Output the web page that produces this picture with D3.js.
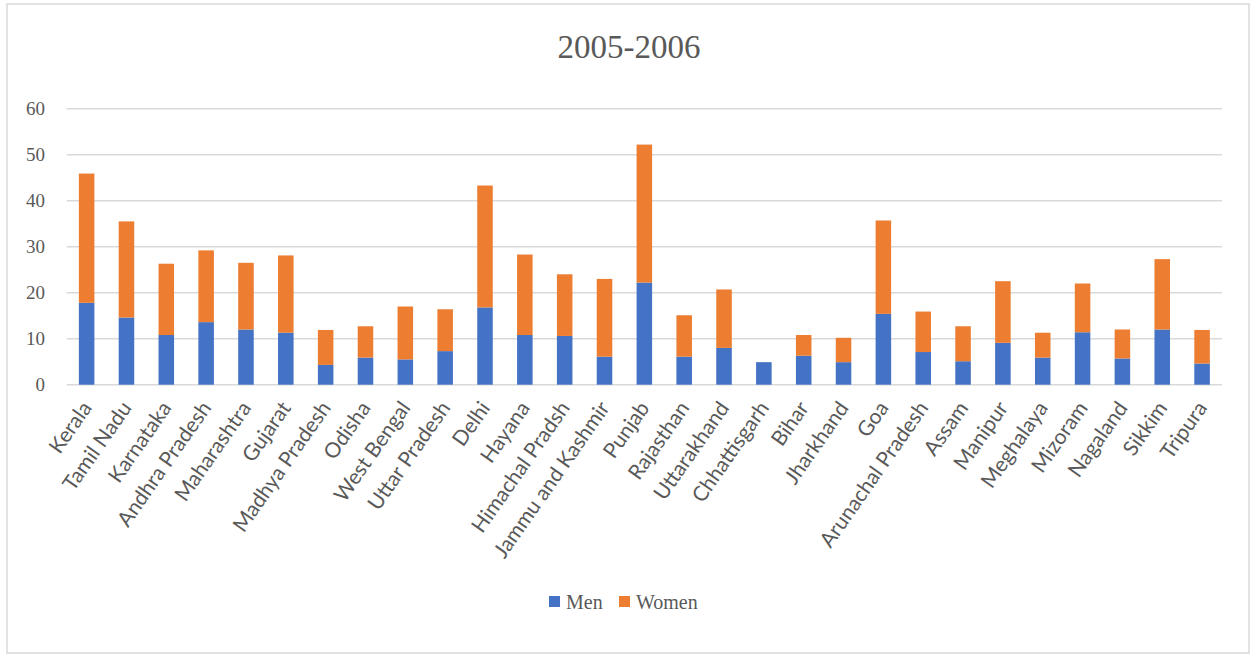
<!DOCTYPE html>
<html>
<head>
<meta charset="utf-8">
<script src="https://cdn.jsdelivr.net/npm/d3@7"></script>
<style>
  html, body { margin: 0; padding: 0; background: #fff; }
  svg { display: block; }
</style>
</head>
<body>
<svg id="chart" width="1253" height="655"></svg>
<script>
const categories = ["Kerala","Tamil Nadu","Karnataka","Andhra Pradesh","Maharashtra","Gujarat","Madhya Pradesh","Odisha","West Bengal","Uttar Pradesh","Delhi","Hayana","Himachal Pradsh","Jammu and Kashmir","Punjab","Rajasthan","Uttarakhand","Chhattisgarh","Bihar","Jharkhand","Goa","Arunachal Pradesh","Assam","Manipur","Meghalaya","Mizoram","Nagaland","Sikkim","Tripura"];
const men   = [17.8,14.6,10.8,13.6,12.0,11.3,4.3,5.9,5.5,7.3,16.8,10.8,10.6,6.1,22.2,6.1,8.0,4.9,6.3,4.9,15.4,7.1,5.1,9.1,5.9,11.4,5.7,12.0,4.6];
const women = [28.1,20.9,15.5,15.6,14.5,16.8,7.6,6.8,11.5,9.1,26.5,17.5,13.4,16.9,30.0,9.0,12.7,0,4.5,5.3,20.3,8.8,7.6,13.4,5.4,10.6,6.3,15.3,7.3];
const yTicks = [0,10,20,30,40,50,60];
const seriesNames = ["Men","Women"];
const colors = ["#4472C4","#ED7D31"];
const title = "2005-2006";

const svg = d3.select("#chart");
const textColor = "#595959";

// chart border
svg.append("rect").attr("x",7).attr("y",4).attr("width",1242).attr("height",649)
  .attr("fill","#fff").attr("stroke","#d9d9d9").attr("stroke-width",1.5);

const x = d3.scaleBand().domain(categories).range([66.7,1222])
  .paddingInner(0.61).paddingOuter(0.305);
const y = d3.scaleLinear().domain([0,60]).range([384.7,108.7]);

// gridlines
svg.append("g").selectAll("line").data(yTicks).join("line")
  .attr("x1",66.7).attr("x2",1222)
  .attr("y1",d=>y(d)).attr("y2",d=>y(d))
  .attr("stroke","#d9d9d9").attr("stroke-width",1.5);

// y tick labels
svg.append("g").selectAll("text").data(yTicks).join("text")
  .attr("x",45).attr("y",d=>y(d)+6.5)
  .attr("text-anchor","end")
  .attr("font-family","'Liberation Serif', serif").attr("font-size",19)
  .attr("fill",textColor).text(d=>d);

// stacked bars
const rows = categories.map((c,i)=>({cat:c, Men:men[i], Women:women[i]}));
const stack = d3.stack().keys(seriesNames)(rows);
svg.append("g").selectAll("g").data(stack).join("g")
  .attr("fill",(d,i)=>colors[i])
  .selectAll("rect").data(d=>d).join("rect")
  .attr("x",d=>x(d.data.cat))
  .attr("width",x.bandwidth())
  .attr("y",d=>y(d[1]))
  .attr("height",d=>Math.max(0,y(d[0])-y(d[1])));

// category labels
svg.append("g").selectAll("text").data(categories).join("text")
  .attr("text-anchor","end")
  .attr("transform",d=>`translate(${x(d)+x.bandwidth()/2+6},408) rotate(-55)`)
  .attr("font-family","Lato, 'Open Sans', sans-serif").attr("font-size",21)
  .attr("fill",textColor).text(d=>d);

// title
svg.append("text").attr("x",629).attr("y",58).attr("text-anchor","middle")
  .attr("font-family","'Liberation Serif', serif").attr("font-size",33)
  .attr("fill",textColor).text(title);

// legend
const legend = svg.append("g");
const legendItems = [{name:"Men",x:549},{name:"Women",x:619}];
legendItems.forEach((it,i)=>{
  legend.append("rect").attr("x",it.x).attr("y",596).attr("width",11).attr("height",11).attr("fill",colors[i]);
  legend.append("text").attr("x",it.x+17).attr("y",608.5)
    .attr("font-family","'Liberation Serif', serif").attr("font-size",20)
    .attr("fill",textColor).text(it.name);
});
</script>
</body>
</html>
